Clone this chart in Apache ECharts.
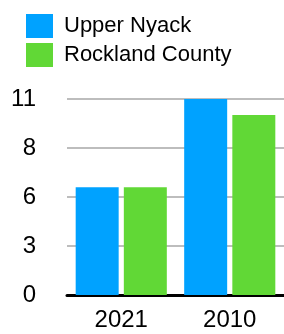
<!doctype html>
<html>
<head>
<meta charset="utf-8">
<title>chart</title>
<script src="https://cdn.jsdelivr.net/npm/echarts@6/dist/echarts.min.js"></script>
<style>
  html, body { margin: 0; padding: 0; background: #fff; }
  #div_charts { width: 284px; height: 334px; }
</style>
</head>
<body>
<div id="div_charts"></div>
<script>
var categories = ['2021', '2010'];
var seriesNames = ['Upper Nyack', 'Rockland County'];
var upperNyack = [6.05, 11];
var rockland = [6.05, 10.1];

var myChart = echarts.init(document.getElementById('div_charts'));
var font = 'Liberation Sans, Arial, Helvetica, sans-serif';

var option = {
    animation: false,
    color: ['#00A2FF', '#61D836'],
    legend: {
        orient: 'vertical',
        left: 21,
        top: 9,
        itemWidth: 27,
        itemHeight: 24,
        itemGap: 5,
        icon: 'rect',
        textStyle: { fontFamily: font, fontSize: 22, color: '#000', padding: [0, 0, 0, 6] },
        data: seriesNames
    },
    grid: { left: 67, right: 0, top: 99, bottom: 39, containLabel: false },
    xAxis: {
        type: 'category',
        data: categories,
        axisTick: { show: false },
        axisLine: { lineStyle: { color: '#000', width: 3 } },
        axisLabel: { fontFamily: font, fontSize: 24, color: '#000', margin: 13 }
    },
    yAxis: {
        type: 'value',
        min: 0,
        max: 11,
        interval: 2.75,
        axisLine: { show: false },
        axisTick: { show: false },
        splitLine: { lineStyle: { color: '#BDBDBD', width: 2 } },
        axisLabel: {
            fontFamily: font, fontSize: 24, color: '#000', margin: 31,
            formatter: function (v) { return Math.round(v); }
        }
    },
    series: [{
        name: seriesNames[0],
        type: 'bar',
        data: upperNyack,
        barGap: '12%',
        barCategoryGap: '16%'
    }, {
        name: seriesNames[1],
        type: 'bar',
        data: rockland
    }]
};
myChart.setOption(option);
</script>
</body>
</html>
